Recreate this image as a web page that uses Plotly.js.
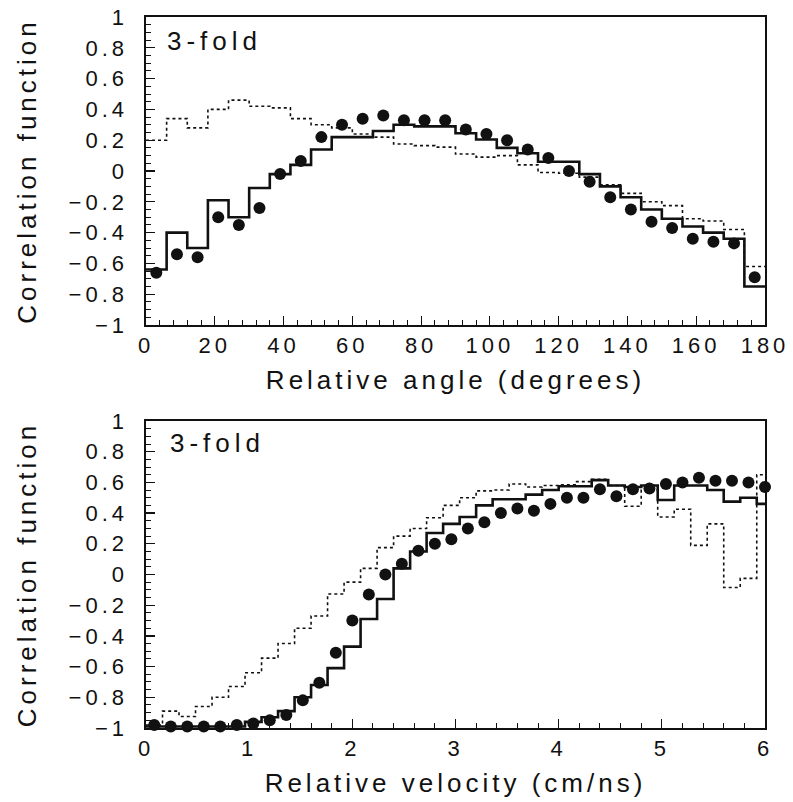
<!DOCTYPE html>
<html>
<head>
<meta charset="utf-8">
<script src="https://cdn.plot.ly/plotly-3.0.1.min.js"></script>
<style>
  html, body { margin: 0; padding: 0; background: #fff; }
  #chart { width: 793px; height: 802px; }
  .xtick text, .x2tick text, .ytick text, .y2tick text { letter-spacing: 4px; }
  text.xtitle, text.x2title, text.ytitle, text.y2title { letter-spacing: 4px; }
  text.annotation-text { letter-spacing: 5px; }
</style>
</head>
<body>
<div id="chart"></div>
<script>
// ---------- Top panel: relative angle (degrees), 6-degree bins ----------
const angleCenters = [3, 9, 15, 21, 27, 33, 39, 45, 51, 57, 63, 69, 75, 81, 87,
                      93, 99, 105, 111, 117, 123, 129, 135, 141, 147, 153, 159, 165, 171, 177];
const angleData = [-0.66, -0.54, -0.56, -0.30, -0.35, -0.24, -0.02, 0.065, 0.22, 0.30,
                   0.34, 0.36, 0.33, 0.33, 0.33, 0.27, 0.24, 0.20, 0.14, 0.085,
                   0.00, -0.07, -0.17, -0.25, -0.33, -0.37, -0.44, -0.46, -0.47, -0.69];
const angleSolid = [-0.64, -0.40, -0.50, -0.19, -0.30, -0.11, -0.02, 0.04, 0.14, 0.22,
                    0.22, 0.26, 0.30, 0.29, 0.29, 0.245, 0.205, 0.15, 0.115, 0.06,
                    0.06, -0.02, -0.10, -0.17, -0.25, -0.31, -0.36, -0.40, -0.44, -0.75];
const angleDotted = [0.20, 0.34, 0.28, 0.40, 0.46, 0.42, 0.41, 0.34, 0.30, 0.28,
                     0.24, 0.22, 0.175, 0.165, 0.155, 0.11, 0.09, 0.10, 0.04, -0.01,
                     -0.015, -0.04, -0.09, -0.145, -0.20, -0.225, -0.31, -0.325, -0.38, -0.62];
const angleBinWidth = 6;

// ---------- Bottom panel: relative velocity (cm/ns), 0.16 bins ----------
const velCenters = [0.08, 0.24, 0.40, 0.56, 0.72, 0.88, 1.04, 1.20, 1.36, 1.52,
                    1.68, 1.84, 2.00, 2.16, 2.32, 2.48, 2.64, 2.80, 2.96, 3.12,
                    3.28, 3.44, 3.60, 3.76, 3.92, 4.08, 4.24, 4.40, 4.56, 4.72,
                    4.88, 5.04, 5.20, 5.36, 5.52, 5.68, 5.84, 6.00];
const velData = [-0.98, -0.99, -0.99, -0.99, -0.99, -0.98, -0.97, -0.95, -0.915, -0.82,
                 -0.705, -0.51, -0.30, -0.13, 0.00, 0.07, 0.155, 0.20, 0.23, 0.30,
                 0.34, 0.40, 0.43, 0.415, 0.46, 0.50, 0.50, 0.555, 0.51, 0.555,
                 0.56, 0.59, 0.60, 0.63, 0.61, 0.61, 0.60, 0.57];
const velSolid = [-0.99, -0.99, -0.99, -0.99, -0.99, -0.99, -0.96, -0.93, -0.89, -0.80,
                  -0.72, -0.61, -0.47, -0.29, -0.16, 0.04, 0.15, 0.27, 0.33, 0.375,
                  0.45, 0.49, 0.49, 0.52, 0.55, 0.575, 0.575, 0.615, 0.58, 0.57,
                  0.58, 0.485, 0.58, 0.58, 0.55, 0.475, 0.50, 0.46];
const velDotted = [-0.98, -0.89, -0.925, -0.86, -0.80, -0.73, -0.64, -0.545, -0.45, -0.35,
                   -0.27, -0.127, -0.05, 0.04, 0.175, 0.25, 0.30, 0.37, 0.45, 0.50,
                   0.545, 0.55, 0.59, 0.57, 0.58, 0.585, 0.605, 0.62, 0.58, 0.445,
                   0.55, 0.375, 0.425, 0.19, 0.33, -0.085, -0.025, 0.65];
const velBinWidth = 0.16;

const yTickVals = [-1, -0.8, -0.6, -0.4, -0.2, 0, 0.2, 0.4, 0.6, 0.8, 1];
const yTickText = ['\u22121', '\u22120.8', '\u22120.6', '\u22120.4', '\u22120.2', '0', '0.2', '0.4', '0.6', '0.8', '1'];
const panelLabel = '3-fold';
const yTitle = 'Correlation function';
const xTitleTop = 'Relative angle (degrees)';
const xTitleBottom = 'Relative velocity (cm/ns)';

// step helper: convert bin centers + values to hv step polyline
function steps(centers, vals, w) {
  const xs = centers.map(c => c - w / 2);
  xs.push(centers[centers.length - 1] + w / 2);
  const ys = vals.slice();
  ys.push(vals[vals.length - 1]);
  return { x: xs, y: ys };
}

const FONT = 'Liberation Sans, Arial, sans-serif';
const INK = '#111';

const sA = steps(angleCenters, angleSolid, angleBinWidth);
const dA = steps(angleCenters, angleDotted, angleBinWidth);
const sV = steps(velCenters, velSolid, velBinWidth);
const dV = steps(velCenters, velDotted, velBinWidth);

const traces = [
  { x: dA.x, y: dA.y, xaxis: 'x', yaxis: 'y', mode: 'lines', line: { shape: 'hv', dash: 'dot', width: 1.6, color: INK }, showlegend: false },
  { x: sA.x, y: sA.y, xaxis: 'x', yaxis: 'y', mode: 'lines', line: { shape: 'hv', width: 2.6, color: INK }, showlegend: false },
  { x: angleCenters, y: angleData, xaxis: 'x', yaxis: 'y', mode: 'markers', cliponaxis: false,
    marker: { symbol: 'circle', size: 12, color: INK }, showlegend: false },
  { x: dV.x, y: dV.y, xaxis: 'x2', yaxis: 'y2', mode: 'lines', line: { shape: 'hv', dash: 'dot', width: 1.6, color: INK }, showlegend: false },
  { x: sV.x, y: sV.y, xaxis: 'x2', yaxis: 'y2', mode: 'lines', line: { shape: 'hv', width: 2.6, color: INK }, showlegend: false },
  { x: velCenters, y: velData, xaxis: 'x2', yaxis: 'y2', mode: 'markers', cliponaxis: false,
    marker: { symbol: 'circle', size: 12, color: INK }, showlegend: false }
];

function xAxis(range, dtick, minorDtick, anchor, title) {
  return {
    anchor: anchor, range: range, dtick: dtick, tick0: 0,
    showgrid: false, zeroline: false,
    showline: true, linecolor: INK, linewidth: 1.6, mirror: true,
    ticks: 'inside', ticklen: 9, tickwidth: 1.2, tickcolor: INK,
    minor: { dtick: minorDtick, ticks: 'inside', ticklen: 5, tickwidth: 1, tickcolor: INK },
    tickfont: { family: FONT, size: 22, color: INK },
    ticklabelstandoff: 0,
    title: { text: title, font: { family: FONT, size: 26, color: INK }, standoff: 14 },
    automargin: false, fixedrange: true
  };
}
function yAxis(domain, anchor) {
  return {
    anchor: anchor, domain: domain, range: [-1, 1],
    tickvals: yTickVals, ticktext: yTickText,
    showgrid: false, zeroline: false,
    showline: true, linecolor: INK, linewidth: 1.6, mirror: true,
    ticks: 'inside', ticklen: 9, tickwidth: 1.2, tickcolor: INK,
    minor: { dtick: 0.05, ticks: 'inside', ticklen: 5, tickwidth: 1, tickcolor: INK },
    tickfont: { family: FONT, size: 22, color: INK },
    ticklabelstandoff: 12,
    title: { text: yTitle, font: { family: FONT, size: 26, color: INK }, standoff: 24 },
    automargin: false, fixedrange: true
  };
}

const layout = {
  width: 793, height: 802,
  margin: { l: 146, r: 28, t: 17, b: 74 },
  paper_bgcolor: '#fff', plot_bgcolor: '#fff',
  font: { family: FONT, color: INK },
  xaxis: xAxis([0, 180], 20, 4, 'y', xTitleTop),
  yaxis: yAxis([0.5668, 1], 'x'),
  xaxis2: xAxis([0, 6], 1, 0.2, 'y2', xTitleBottom),
  yaxis2: yAxis([0, 0.4318], 'x2'),
  annotations: [
    { text: panelLabel, xref: 'x domain', yref: 'y domain', x: 0.031, y: 0.922,
      xanchor: 'left', yanchor: 'middle', showarrow: false,
      font: { family: FONT, size: 26, color: INK } },
    { text: panelLabel, xref: 'x2 domain', yref: 'y2 domain', x: 0.036, y: 0.928,
      xanchor: 'left', yanchor: 'middle', showarrow: false,
      font: { family: FONT, size: 26, color: INK } }
  ]
};

Plotly.newPlot('chart', traces, layout, { staticPlot: true, displayModeBar: false });
</script>
</body>
</html>
